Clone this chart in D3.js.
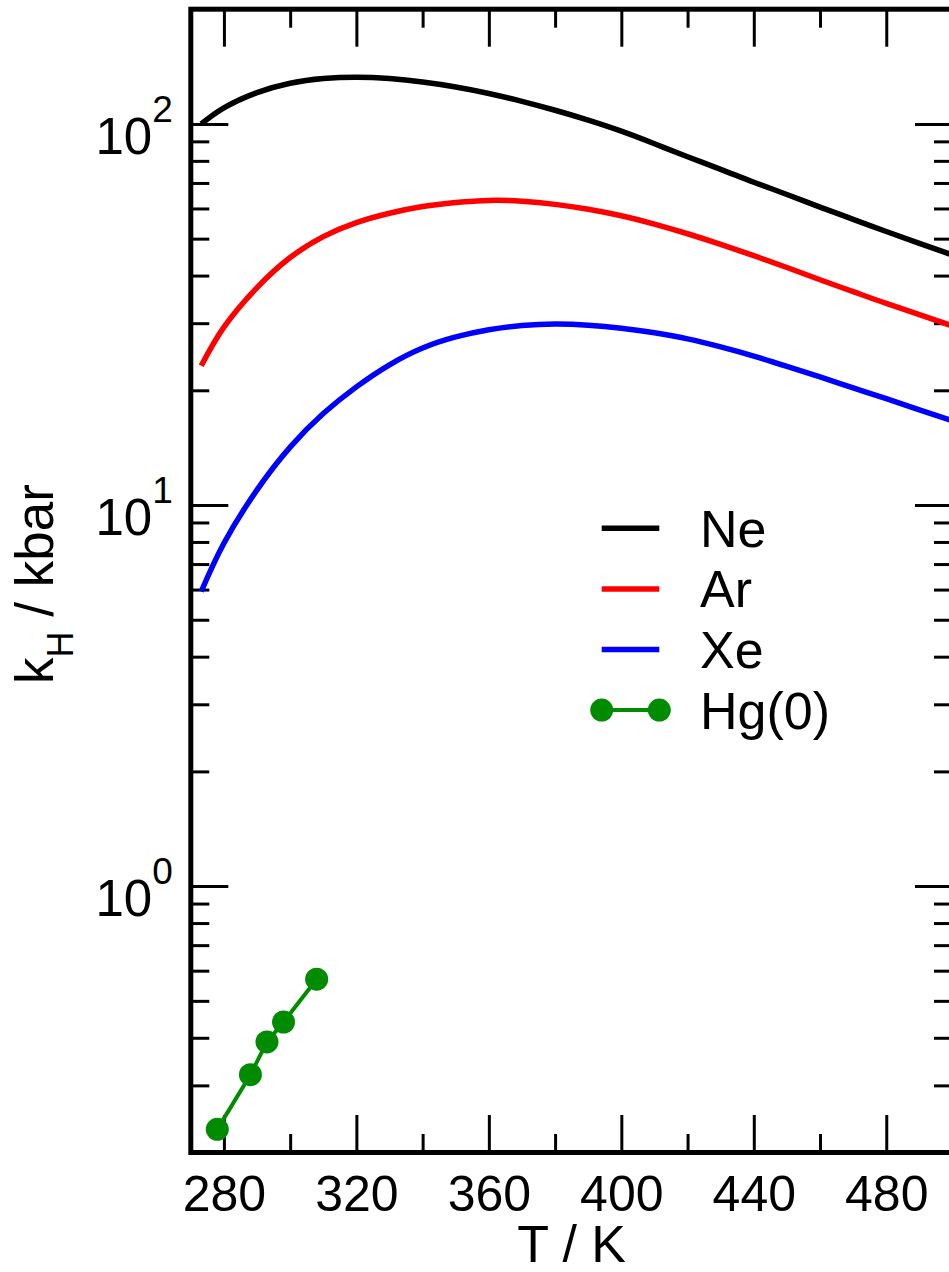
<!DOCTYPE html>
<html>
<head>
<meta charset="utf-8">
<script src="https://cdn.jsdelivr.net/npm/d3@7"></script>
<style>
    body { margin: 0; background: #fff; }
    #chart { width: 949px; height: 1272px; }
    text { font-family: "Liberation Sans", Arial, Helvetica, sans-serif; fill: #000; }
</style>
</head>
<body>
<div id="chart"></div>
<script>
// Henry constants (kbar) vs temperature (K)
let curveT = [273.15, 280, 290, 300, 310, 320, 330, 340, 350, 360, 370, 380, 390, 400, 410, 420, 430, 440, 450, 460, 470, 480, 490, 500];
let neK = [100, 110.2, 120.8, 127.9, 131.5, 132.6, 131.5, 128.8, 125.0, 120.2, 114.6, 108.6, 102.3, 95.7, 88.7, 82.0, 76.0, 70.3, 65.3, 60.5, 56.2, 52.2, 48.6, 45.3];
let arK = [23.2, 29.3, 37.2, 44.6, 50.6, 55.1, 58.3, 60.7, 62.2, 63.0, 62.7, 61.5, 59.7, 57.4, 54.6, 51.5, 48.3, 45.1, 42.0, 39.0, 36.3, 33.8, 31.6, 29.5];
let xeK = [5.93, 7.94, 10.96, 14.19, 17.38, 20.42, 23.33, 25.82, 27.61, 28.84, 29.58, 29.85, 29.65, 29.11, 28.31, 27.29, 26.0, 24.6, 23.12, 21.68, 20.3, 19.01, 17.78, 16.63];

let hgT = [278, 288, 293, 298, 308];
let hgK = [0.23, 0.32, 0.39, 0.44, 0.57];

let seriesNames = ["Ne", "Ar", "Xe", "Hg(0)"];
let seriesColors = ["#000000", "#ff0000", "#0000ff", "#008b00"];

// axis ticks
let xMajor = [280, 320, 360, 400, 440, 480];
let xMinor = [300, 340, 380, 420, 460];
let yMajor = [1, 10, 100];
let yExp = ["0", "1", "2"];
let yMinor = [0.3, 0.4, 0.5, 0.6, 0.7, 0.8, 0.9, 2, 3, 4, 5, 6, 7, 8, 9, 20, 30, 40, 50, 60, 70, 80, 90];

class KhChart {
    constructor(_parentElement) {
        this.parentElement = _parentElement;
        this.initVis();
    }

    initVis() {
        let vis = this;
        vis.margin = { top: 9.2, right: -3.5, bottom: 119.5, left: 190.8 };
        vis.width = 949 - vis.margin.left - vis.margin.right;
        vis.height = 1272 - vis.margin.top - vis.margin.bottom;

        vis.svg = d3.select("#" + vis.parentElement).append("svg")
            .attr("width", 949)
            .attr("height", 1272)
            .append("g")
            .attr("transform", `translate(${vis.margin.left}, ${vis.margin.top})`);

        vis.x = d3.scaleLinear().domain([270, 500]).range([0, vis.width]);
        vis.y = d3.scaleLog().domain([0.2, 200]).range([vis.height, 0]);

        vis.svg.append("clipPath").attr("id", "plot-clip")
            .append("rect")
            .attr("width", vis.width)
            .attr("height", vis.height);

        vis.drawAxes();
        vis.drawLines();
        vis.drawLegend();
    }

    drawAxes() {
        let vis = this;
        let major = 37.5, minor = 18.5;

        let addAxis = (axis, transform) => {
            let g = vis.svg.append("g").attr("class", "axis").attr("transform", transform).call(axis);
            g.select(".domain").remove();
            g.selectAll(".tick line").attr("stroke", "#000").attr("stroke-width", 3);
            return g;
        };

        // bottom, with labels
        let bottom = addAxis(d3.axisBottom(vis.x).tickValues(xMajor).tickSize(-major).tickPadding(23),
            `translate(0, ${vis.height})`);
        bottom.selectAll("text").style("font-size", "50px").style("font-family", "Liberation Sans, Arial, sans-serif").attr("fill", "#000");
        addAxis(d3.axisBottom(vis.x).tickValues(xMinor).tickSize(-minor).tickFormat(""), `translate(0, ${vis.height})`);

        // top
        addAxis(d3.axisTop(vis.x).tickValues(xMajor).tickSize(-major).tickFormat(""), "translate(0,0)");
        addAxis(d3.axisTop(vis.x).tickValues(xMinor).tickSize(-minor).tickFormat(""), "translate(0,0)");

        // left and right
        addAxis(d3.axisLeft(vis.y).tickValues(yMajor).tickSize(-major).tickFormat(""), "translate(0,0)");
        addAxis(d3.axisLeft(vis.y).tickValues(yMinor).tickSize(-minor).tickFormat(""), "translate(0,0)");
        addAxis(d3.axisRight(vis.y).tickValues(yMajor).tickSize(-major).tickFormat(""), `translate(${vis.width},0)`);
        addAxis(d3.axisRight(vis.y).tickValues(yMinor).tickSize(-minor).tickFormat(""), `translate(${vis.width},0)`);

        // power-of-ten labels
        let labels = vis.svg.selectAll(".ylab")
            .data(yMajor)
            .enter()
            .append("text")
            .attr("class", "ylab")
            .attr("text-anchor", "end")
            .attr("x", -18)
            .attr("y", d => vis.y(d) + 30)
            .style("font-size", "51px");
        labels.append("tspan").text("10");
        labels.append("tspan")
            .attr("dy", -32)
            .style("font-size", "37px")
            .text((d, i) => yExp[i]);

        // frame
        vis.svg.append("rect")
            .attr("width", vis.width)
            .attr("height", vis.height)
            .attr("fill", "none")
            .attr("stroke", "#000")
            .attr("stroke-width", 5);

        // axis titles
        vis.svg.append("text")
            .attr("text-anchor", "middle")
            .attr("x", vis.width / 2)
            .attr("y", 1262 - vis.margin.top)
            .style("font-size", "52px")
            .text("T / K");

        let ytitle = vis.svg.append("text")
            .attr("text-anchor", "middle")
            .attr("transform", `translate(${53 - vis.margin.left}, ${584 - vis.margin.top}) rotate(-90)`)
            .style("font-size", "53px");
        ytitle.append("tspan").text("k");
        ytitle.append("tspan").attr("dy", 20).style("font-size", "36px").text("H");
        ytitle.append("tspan").attr("dy", -20).text(" / kbar");
    }

    drawLines() {
        let vis = this;
        let line = d3.line()
            .x(d => vis.x(d[0]))
            .y(d => vis.y(d[1]))
            .curve(d3.curveNatural);

        let curves = [d3.zip(curveT, neK), d3.zip(curveT, arK), d3.zip(curveT, xeK)];
        vis.svg.append("g")
            .attr("clip-path", "url(#plot-clip)")
            .selectAll(".curve")
            .data(curves)
            .enter()
            .append("path")
            .attr("class", "curve")
            .attr("fill", "none")
            .attr("stroke", (d, i) => seriesColors[i])
            .attr("stroke-width", 5.5)
            .attr("d", line);

        let hg = d3.zip(hgT, hgK);
        vis.svg.append("path")
            .datum(hg)
            .attr("fill", "none")
            .attr("stroke", seriesColors[3])
            .attr("stroke-width", 4)
            .attr("d", d3.line().x(d => vis.x(d[0])).y(d => vis.y(d[1])));

        vis.svg.selectAll(".hg")
            .data(hg)
            .enter()
            .append("circle")
            .attr("class", "hg")
            .attr("cx", d => vis.x(d[0]))
            .attr("cy", d => vis.y(d[1]))
            .attr("r", 11.5)
            .attr("fill", seriesColors[3]);
    }

    drawLegend() {
        let vis = this;
        let legend = vis.svg.append("g")
            .attr("transform", `translate(${601.7 - vis.margin.left}, ${528.3 - vis.margin.top})`);

        let rows = legend.selectAll(".row")
            .data(seriesNames)
            .enter()
            .append("g")
            .attr("class", "row")
            .attr("transform", (d, i) => `translate(0, ${i * 60.6})`);

        rows.append("line")
            .attr("x1", 0)
            .attr("x2", 57.6)
            .attr("stroke", (d, i) => seriesColors[i])
            .attr("stroke-width", (d, i) => i === 3 ? 4 : 5.5);

        rows.filter((d, i) => i === 3).selectAll("circle")
            .data([0, 57.6])
            .enter()
            .append("circle")
            .attr("cx", d => d)
            .attr("r", 11.5)
            .attr("fill", seriesColors[3]);

        rows.append("text")
            .attr("x", 98.3)
            .attr("y", 18.5)
            .style("font-size", "52px")
            .text(d => d);
    }
}

new KhChart("chart");
</script>
</body>
</html>
